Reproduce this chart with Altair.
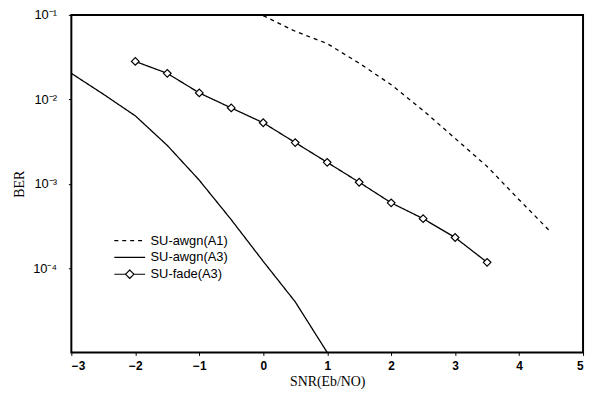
import altair as alt
import pandas as pd

series_names = ["SU-awgn(A1)", "SU-awgn(A3)", "SU-fade(A3)"]

a1_snr = [0, 0.5, 1, 1.5, 2, 2.5, 3, 3.5, 4, 4.5]
a1_ber = [0.098, 0.064, 0.0457, 0.0268, 0.0149, 0.00738, 0.00344, 0.0016, 0.000646, 0.000265]

a3_snr = [-3, -2.5, -2, -1.5, -1, -0.5, 0, 0.5, 1]
a3_ber = [0.0203, 0.0115, 0.00637, 0.00284, 0.0011, 0.000374, 0.00012, 3.98e-5, 1.0e-5]

fade_snr = [-2, -1.5, -1, -0.5, 0, 0.5, 1, 1.5, 2, 2.5, 3, 3.5]
fade_ber = [0.0281, 0.0203, 0.0119, 0.0079, 0.00527, 0.00307, 0.00179, 0.00104,
            0.000593, 0.000385, 0.00023, 0.000117]

x_ticks = [-3, -2, -1, 0, 1, 2, 3, 4, 5]
y_major = [0.1, 0.01, 0.001, 0.0001]
y_labels = ["10⁻¹", "10⁻²", "10⁻³", "10⁻⁴"]

rows = []
for s, xs, ys in [(series_names[0], a1_snr, a1_ber),
                  (series_names[1], a3_snr, a3_ber),
                  (series_names[2], fade_snr, fade_ber)]:
    for i, (xv, yv) in enumerate(zip(xs, ys)):
        rows.append({"series": s, "snr": xv, "ber": yv, "order": i})
df = pd.DataFrame(rows)
df_fade = df[df.series == series_names[2]]

label_expr = " : ".join(
    [f"abs(datum.value - {v}) < {v}*0.01 ? '{l}'" for v, l in zip(y_major, y_labels)]
) + " : ''"

x_scale = alt.Scale(domain=[-3, 5], nice=False, zero=False)
y_scale = alt.Scale(type="log", domain=[1e-5, 0.1], nice=False)

x_enc = alt.X("snr:Q", scale=x_scale,
              axis=alt.Axis(values=x_ticks, format="d", title="SNR(Eb/NO)", grid=False, domain=False,
                            tickSize=3, tickColor="black", labelPadding=5,
                            labelFont="Liberation Sans", labelFontSize=12, labelFontWeight="bold",
                            labelColor="black", titleFont="Liberation Serif", titleFontSize=14,
                            titleFontWeight="normal", titleColor="black", titlePadding=3))
y_enc = alt.Y("ber:Q", scale=y_scale,
              axis=alt.Axis(values=y_major, labelExpr=label_expr, title="BER", grid=False,
                            domain=False, tickSize=3, tickColor="black", labelPadding=12,
                            labelFont="Liberation Sans", labelFontSize=13, labelColor="black",
                            labelOverlap=False,
                            titleFont="Liberation Serif", titleFontSize=14, titleFontWeight="normal",
                            titleColor="black", titlePadding=6))

dash_scale = alt.Scale(domain=series_names, range=[[4, 4], [1, 0], [1, 0]])
shape_scale = alt.Scale(domain=series_names,
                        range=["M-2.2,0H2.2", "M-2.2,0H2.2",
                               "M-2.2,0H-0.6M0.6,0H2.2M0,-0.6L0.6,0L0,0.6L-0.6,0Z"])

legend = alt.Legend(title=None, orient="none", legendX=51, legendY=220,
                    symbolSize=200, symbolStrokeColor="black", symbolFillColor="white",
                    symbolOpacity=1, symbolStrokeWidth=1.2, labelOffset=13, rowPadding=2,
                    labelFont="Liberation Sans", labelFontSize=13, labelColor="black",
                    padding=0)

lines = alt.Chart(df).mark_line(color="black", strokeWidth=1.3, clip=True).encode(
    x=x_enc, y=y_enc, detail="series:N", order="order:Q",
    strokeDash=alt.StrokeDash("series:N", scale=dash_scale, legend=legend),
)

legend_helper = alt.Chart(df).mark_point(opacity=0, color="black", filled=False).encode(
    x="snr:Q", y="ber:Q",
    shape=alt.Shape("series:N", scale=shape_scale, legend=legend),
)

points = alt.Chart(df_fade).mark_point(shape="diamond", size=60, color="black", filled=False,
                                       fill="white", fillOpacity=1, strokeWidth=1.2,
                                       opacity=1).encode(x="snr:Q", y="ber:Q")

chart = alt.layer(lines, legend_helper, points).properties(
    width=517, height=341,
    autosize=alt.AutoSizeParams(type="none"),
    padding={"left": 64, "top": 5, "right": 5, "bottom": 40},
    background="white",
).configure_view(stroke="black", strokeWidth=2)

chart.save("out.html", embed_options={"renderer": "svg", "actions": False})
